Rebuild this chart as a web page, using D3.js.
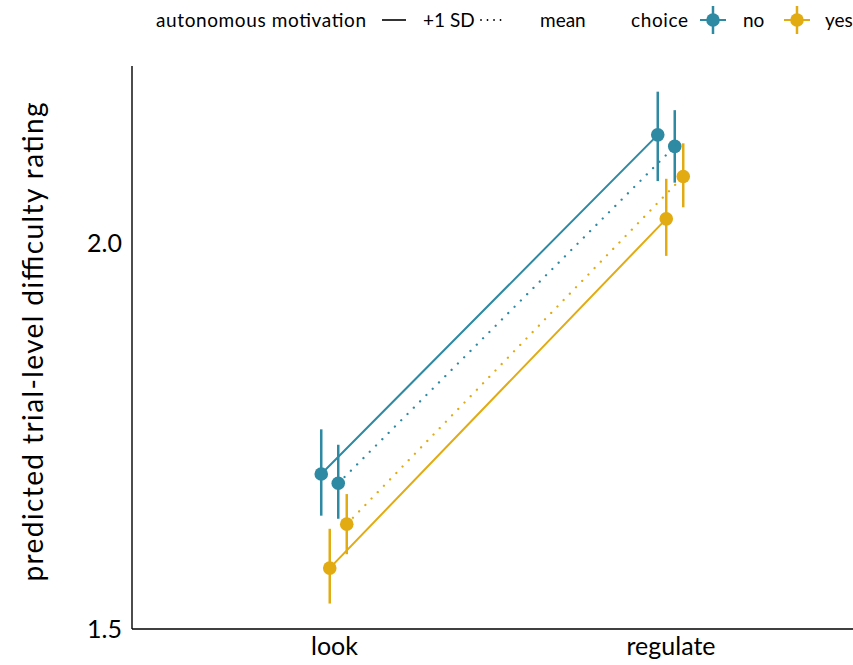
<!DOCTYPE html>
<html>
<head>
<meta charset="utf-8">
<script src="https://cdn.jsdelivr.net/npm/d3@7"></script>
<style>
body{margin:0;background:#fff;}
svg{display:block;}
text{font-family:"Lato","Noto Sans",sans-serif;fill:#000;}
</style>
</head>
<body>
<svg id="chart" width="853" height="665"></svg>
<script>
// ---- data ----
const conditions = ["look", "regulate"];
const groups = ["no_+1SD", "yes_+1SD", "no_mean", "yes_mean"];
const groupChoice = ["no", "yes", "no", "yes"];
const groupMotivation = ["+1 SD", "+1 SD", "mean", "mean"];
// predicted values, per group, [look, regulate]
const estimate = {
  "no_+1SD":  [1.701, 2.141],
  "yes_+1SD": [1.579, 2.032],
  "no_mean":  [1.689, 2.126],
  "yes_mean": [1.636, 2.087]
};
const lower = {
  "no_+1SD":  [1.647, 2.081],
  "yes_+1SD": [1.533, 1.984],
  "no_mean":  [1.643, 2.079],
  "yes_mean": [1.597, 2.047]
};
const upper = {
  "no_+1SD":  [1.759, 2.197],
  "yes_+1SD": [1.630, 2.084],
  "no_mean":  [1.739, 2.173],
  "yes_mean": [1.675, 2.130]
};
const yTicks = [1.5, 2.0];
const choiceLevels = ["no", "yes"];
const motivationLevels = ["+1 SD", "mean"];

// ---- styling ----
const colors = {no: "#2E89A3", yes: "#E2AB12"};
const dash = {"+1 SD": null, "mean": "0.01,8.9"};

const svg = d3.select("#chart");
const panel = {left: 132, right: 853, top: 66, bottom: 629};

const x = d3.scalePoint().domain(conditions).range([334, 670.5]);
const dodge = d3.scalePoint().domain(groups).range([-12.75, 12.75]);
const y = d3.scaleLinear().domain([1.5, 2.2303]).range([panel.bottom, panel.top]);

const rows = [];
groups.forEach((g, gi) => {
  conditions.forEach((c, ci) => {
    rows.push({g, c, choice: groupChoice[gi], mot: groupMotivation[gi],
      est: estimate[g][ci], lo: lower[g][ci], hi: upper[g][ci]});
  });
});

// axes lines
svg.append("line").attr("x1", panel.left).attr("x2", panel.left)
  .attr("y1", panel.top).attr("y2", panel.bottom)
  .attr("stroke", "#000").attr("stroke-width", 1.4);
svg.append("line").attr("x1", panel.left).attr("x2", panel.right)
  .attr("y1", panel.bottom).attr("y2", panel.bottom)
  .attr("stroke", "#000").attr("stroke-width", 1.4);

// y tick labels
const yAxis = d3.axisLeft(y).tickValues(yTicks).tickFormat(d3.format(".1f")).tickSize(0).tickPadding(10);
const ya = svg.append("g").attr("transform", `translate(${panel.left},0)`).call(yAxis);
ya.select(".domain").remove();
ya.selectAll("text").style("font-size", "25px").attr("font-family", "Lato, sans-serif");

// x tick labels
const xAxis = d3.axisBottom(x).tickSize(0).tickPadding(8);
const xa = svg.append("g").attr("transform", `translate(0,${panel.bottom})`).call(xAxis);
xa.select(".domain").remove();
xa.selectAll("text").style("font-size", "25px").attr("font-family", "Lato, sans-serif");

// y title
svg.append("text")
  .attr("transform", "translate(43,342) rotate(-90)")
  .attr("text-anchor", "middle")
  .style("font-size", "28px")
  .attr("textLength", 479).attr("lengthAdjust", "spacing")
  .text("predicted trial-level difficulty rating");

// lines
const line = d3.line().x(d => x(d.c) + dodge(d.g)).y(d => y(d.est));
groups.forEach((g, gi) => {
  const d = rows.filter(r => r.g === g);
  const isMean = groupMotivation[gi] === "mean";
  svg.append("path").datum(d)
    .attr("d", line)
    .attr("fill", "none")
    .attr("stroke", colors[groupChoice[gi]])
    .attr("stroke-width", isMean ? 2.3 : 2)
    .attr("stroke-linecap", "round")
    .attr("stroke-dasharray", dash[groupMotivation[gi]]);
});

// error bars
svg.selectAll(".err").data(rows).enter().append("line")
  .attr("x1", d => x(d.c) + dodge(d.g)).attr("x2", d => x(d.c) + dodge(d.g))
  .attr("y1", d => y(d.lo)).attr("y2", d => y(d.hi))
  .attr("stroke", d => colors[d.choice]).attr("stroke-width", 2.5);

// points
svg.selectAll(".pt").data(rows).enter().append("circle")
  .attr("cx", d => x(d.c) + dodge(d.g)).attr("cy", d => y(d.est))
  .attr("r", 6.8)
  .attr("fill", d => colors[d.choice]);

// legend
const lg = svg.append("g");
const ly = 20;
const fs = "19px";
lg.append("text").attr("x", 156).attr("y", ly).attr("dy", "0.35em")
  .style("font-size", fs).attr("textLength", 210).attr("lengthAdjust", "spacing")
  .text("autonomous motivation");
const motX = [{k: 382, t: 423}, {k: 481, t: 540}];
motivationLevels.forEach((m, i) => {
  lg.append("line").attr("x1", motX[i].k).attr("x2", motX[i].k + 24)
    .attr("y1", ly).attr("y2", ly)
    .attr("stroke", "#000").attr("stroke-width", m === "mean" ? 1.8 : 1.6)
    .attr("stroke-linecap", m === "mean" ? "round" : "butt")
    .attr("stroke-dasharray", m === "mean" ? "0.01,6.5" : null);
  lg.append("text").attr("x", motX[i].t).attr("y", ly).attr("dy", "0.35em")
    .style("font-size", fs)
    .text(m);
});
lg.append("text").attr("x", 631).attr("y", ly).attr("dy", "0.35em")
  .style("font-size", fs).attr("textLength", 57).attr("lengthAdjust", "spacing")
  .text("choice");
const chX = [{k: 713, t: 743}, {k: 797, t: 825}];
choiceLevels.forEach((c, i) => {
  const cx = chX[i].k;
  lg.append("line").attr("x1", cx - 13).attr("x2", cx + 13).attr("y1", ly).attr("y2", ly)
    .attr("stroke", colors[c]).attr("stroke-width", 2);
  lg.append("line").attr("x1", cx).attr("x2", cx).attr("y1", ly - 14).attr("y2", ly + 14)
    .attr("stroke", colors[c]).attr("stroke-width", 2.5);
  lg.append("circle").attr("cx", cx).attr("cy", ly).attr("r", 6.8).attr("fill", colors[c]);
  lg.append("text").attr("x", chX[i].t).attr("y", ly).attr("dy", "0.35em")
    .style("font-size", fs).text(c);
});
</script>
</body>
</html>
